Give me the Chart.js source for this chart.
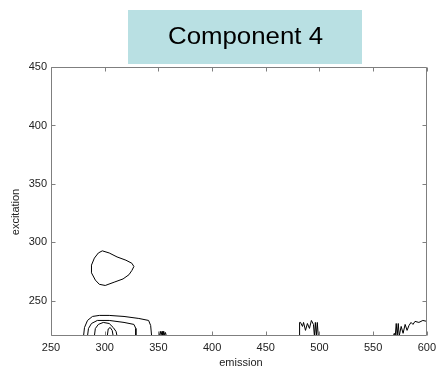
<!DOCTYPE html>
<html><head><meta charset="utf-8">
<script src="https://cdn.jsdelivr.net/npm/chart.js@4/dist/chart.umd.min.js"></script>
<style>html,body{margin:0;padding:0;background:#fff}#wrap{width:441px;height:368px}</style>
</head><body><div id="wrap"><canvas id="c" width="441" height="368"></canvas></div>
<script>
const titleText = "Component 4";
const xAxisLabel = "emission";
const yAxisLabel = "excitation";
const xTicks = [250, 300, 350, 400, 450, 500, 550, 600];
const yTicks = [250, 300, 350, 400, 450];
const xRange = [250, 600];
const yRange = [220, 450];

// isolated closed contour around (305, 278)
const loopX = [297.8, 304.2, 311.5, 319.8, 325.3, 327.2, 325.3, 322.6, 317.1, 308.8, 300.5, 295.0, 291.3, 287.7, 287.7, 290.4, 294.1, 297.8];
const loopY = [292.8, 291.0, 287.6, 284.8, 282.2, 279.4, 276.0, 272.4, 268.8, 266.0, 263.2, 264.2, 267.8, 274.0, 280.6, 286.6, 291.0, 292.8];

// nested contours at the bottom edge
const outerX = [280.3, 281.2, 284.0, 288.6, 295.0, 304.2, 318.0, 331.8, 340.9, 342.8, 343.7];
const outerY = [220, 227.3, 233.3, 236.7, 237.6, 237.6, 236.7, 235.0, 233.3, 229.0, 220];
const midX = [284.0, 284.9, 287.7, 293.2, 304.2, 318.0, 327.2, 329.0, 329.0];
const midY = [220, 226.4, 230.7, 233.3, 233.3, 231.6, 229.9, 226.4, 220];
const innerX = [290.4, 291.3, 294.1, 298.7, 304.2, 307.9, 310.6, 311.5];
const innerY = [220, 226.4, 229.9, 231.6, 230.7, 227.3, 223.9, 220];
const coreX = [302.4, 303.3, 305.1, 307.0, 307.9];
const coreY = [220, 226.0, 227.3, 224.7, 220];

// noisy fragments along the bottom edge
const noise1X = [351, 351.8, 352.6, 353.4, 354.2, 355.0, 355.8, 356.6, 357.4];
const noise1Y = [220, 224, 221, 224, 220, 224, 221, 223, 220];
const noise2X = [481.5, 481.5, 482.4, 484.2, 485.2, 487.0, 488.8, 490.7, 492.5, 494.4, 495.3, 496.2, 497.1, 498.0, 498.9];
const noise2Y = [220, 231.6, 231.6, 228.2, 231.6, 224.8, 230.7, 226.5, 233.3, 229.9, 220, 231.6, 220, 231.6, 220];
const noise3X = [568.8, 569.7, 570.6, 571.5, 572.4, 573.4, 574.3, 576.1, 577.9, 579.8, 581.6, 583.4, 585.3, 587.1, 589.0, 592.6, 596.3, 600];
const noise3Y = [220, 222.3, 220, 230.7, 220, 230.7, 220, 228.2, 222.3, 229.9, 224.8, 229.0, 231.6, 229.9, 232.5, 231.6, 233.3, 232.5];

const lines = [[loopX, loopY], [outerX, outerY], [midX, midY], [innerX, innerY], [coreX, coreY], [noise1X, noise1Y], [noise2X, noise2Y], [noise3X, noise3Y]];
const datasets = lines.map(([xs, ys]) => ({
  data: xs.map((v, i) => ({x: v, y: ys[i]})),
  showLine: true, borderColor: '#000', borderWidth: 1, pointRadius: 0, fill: false, tension: 0
}));

const FONT = 'Arial, "Liberation Sans", Helvetica, sans-serif';

const decor = {
  id: 'decor',
  afterDraw(chart) {
    const {ctx, chartArea: a, scales: {x, y}} = chart;
    ctx.save();
    ctx.strokeStyle = '#7f7f7f';
    ctx.lineWidth = 1;
    const L = Math.round(a.left) + 0.5, R = Math.round(a.right) - 0.5, T = Math.round(a.top) + 0.5, B = Math.round(a.bottom) - 0.5;
    ctx.beginPath();
    ctx.rect(L, T, R - L, B - T);
    const tl = 4;
    xTicks.forEach(v => {
      const px = Math.round(x.getPixelForValue(v)) + 0.5;
      ctx.moveTo(px, B); ctx.lineTo(px, B - tl);
      ctx.moveTo(px, T); ctx.lineTo(px, T + tl);
    });
    yTicks.forEach(v => {
      const py = Math.round(y.getPixelForValue(v)) + 0.5;
      ctx.moveTo(L, py); ctx.lineTo(L + tl, py);
      ctx.moveTo(R, py); ctx.lineTo(R - tl, py);
    });
    ctx.stroke();

    // axis titles
    ctx.fillStyle = '#222';
    ctx.font = '11px ' + FONT;
    ctx.textAlign = 'center';
    ctx.textBaseline = 'alphabetic';
    ctx.fillText(xAxisLabel, (a.left + a.right) / 2 + 2, 366);
    ctx.save();
    ctx.translate(19, 212);
    ctx.rotate(-Math.PI / 2);
    ctx.fillText(yAxisLabel, 0, 0);
    ctx.restore();

    // title box
    ctx.fillStyle = '#b9e0e3';
    ctx.fillRect(128, 10, 234, 54);
    ctx.fillStyle = '#000';
    ctx.font = '24px ' + FONT;
    ctx.textAlign = 'center';
    const w0 = ctx.measureText(titleText).width;
    const sx = Math.max(1, Math.min(1.1, 155 / w0));
    ctx.save();
    ctx.translate(245.5, 44);
    ctx.scale(sx, 1);
    ctx.fillText(titleText, 0, 0);
    ctx.restore();
    ctx.restore();
  }
};

new Chart(document.getElementById('c'), {
  type: 'scatter',
  data: {datasets},
  options: {
    responsive: false, animation: false, devicePixelRatio: 1,
    layout: {padding: {top: 67, right: 9, left: 0, bottom: 0}},
    plugins: {legend: {display: false}, tooltip: {enabled: false}, title: {display: false}},
    scales: {
      x: {
        type: 'linear', min: xRange[0], max: xRange[1],
        afterBuildTicks: s => { s.ticks = xTicks.map(v => ({value: v})); },
        afterFit: s => { s.height = 32; },
        grid: {display: false, drawTicks: false},
        border: {display: false},
        ticks: {color: '#222', font: {family: FONT, size: 11}, padding: 5, maxRotation: 0, autoSkip: false}
      },
      y: {
        type: 'linear', min: yRange[0], max: yRange[1],
        afterBuildTicks: s => { s.ticks = yTicks.map(v => ({value: v})); },
        afterFit: s => { s.width = 51; },
        grid: {display: false, drawTicks: false},
        border: {display: false},
        ticks: {color: '#222', font: {family: FONT, size: 11}, padding: 4}
      }
    }
  },
  plugins: [decor]
});
</script></body></html>
